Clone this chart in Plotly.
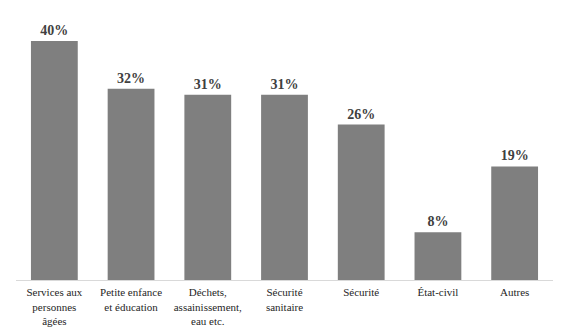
import plotly.graph_objects as go

categories = ["Services aux<br>personnes<br>âgées", "Petite enfance<br>et éducation",
              "Déchets,<br>assainissement,<br>eau etc.", "Sécurité<br>sanitaire",
              "Sécurité", "État-civil", "Autres"]
values = [40, 32, 31, 31, 26, 8, 19]
labels = [f"{v}%" for v in values]

SERIF = "Liberation Serif"

fig = go.Figure(go.Bar(
    x=categories, y=values, text=labels, textposition="outside",
    marker=dict(color="#7f7f7f", line=dict(width=0)),
    textfont=dict(family=SERIF, size=14, color="#404040"),
    texttemplate="<b>%{text}</b>", cliponaxis=False,
))
fig.update_layout(
    width=567, height=334, margin=dict(l=16, r=14, t=11, b=54),
    plot_bgcolor="white", paper_bgcolor="white", bargap=0.39,
    showlegend=False,
    font=dict(family=SERIF, size=11, color="#262626"),
)
fig.update_xaxes(showline=True, linecolor="#d9d9d9", linewidth=1, ticks="",
                 tickfont=dict(family=SERIF, size=11), ticklabelstandoff=2,
                 automargin=False)
fig.update_yaxes(range=[0, 45], visible=False, automargin=False)
fig.write_html("out.html")
